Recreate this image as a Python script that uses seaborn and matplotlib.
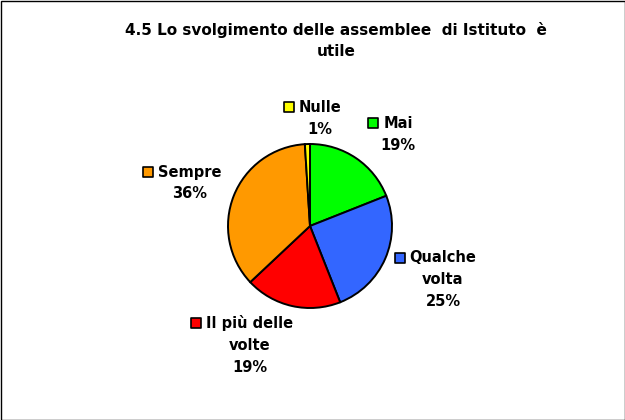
import matplotlib
matplotlib.use("Agg")
import matplotlib.pyplot as plt
import seaborn as sns
from matplotlib.patches import Rectangle

# ---- data ----
categories = ["Mai", "Qualche volta", "Il più delle volte", "Sempre", "Nulle"]
label_lines = [["Mai"], ["Qualche", "volta"], ["Il più delle", "volte"], ["Sempre"], ["Nulle"]]
values = [19, 25, 19, 36, 1]
colors = ["#00FF00", "#3366FF", "#FF0000", "#FF9900", "#FFFF00"]
title = "4.5 Lo svolgimento delle assemblee  di Istituto  è\nutile"

# ---- layout (pixel coordinates, y from top) ----
W, H = 625, 420
pie_center = (310, 226)
pie_radius = 82
# x centre of label block, y of first line
label_pos = [(398, 123), (443, 258), (250, 323), (190, 172), (320, 107)]
line_pitch = 22

sns.set_theme(style="white")
plt.rcParams["font.family"] = ["DejaVu Sans"]

fig = plt.figure(figsize=(W / 100, H / 100), dpi=100)
fig.patch.set_facecolor("white")
ax = fig.add_axes([0, 0, 1, 1])

pal = sns.color_palette(colors)
ax.pie(values, colors=pal, startangle=90, counterclock=False,
       center=(pie_center[0], H - pie_center[1]), radius=pie_radius,
       wedgeprops=dict(edgecolor="black", linewidth=1.4), frame=True)
ax.set_xlim(0, W)
ax.set_ylim(0, H)
ax.set_axis_off()

fig.text(336 / W, 1 - 41 / H, title, ha="center", va="center",
         fontsize=11, fontweight="bold", color="black", linespacing=1.5)

fig.canvas.draw()
renderer = fig.canvas.get_renderer()
for lines, val, col, (cx, cy) in zip(label_lines, values, pal, label_pos):
    all_lines = lines + [f"{val}%"]
    first = None
    for i, ln in enumerate(all_lines):
        t = ax.text(cx, H - (cy + i * line_pitch), ln, ha="center", va="center",
                    fontsize=10.5, fontweight="bold", color="black")
        if i == 0:
            first = t
    bb = first.get_window_extent(renderer=renderer)
    x0 = ax.transData.inverted().transform((bb.x0, bb.y0))[0]
    ax.scatter([x0 - 10], [H - cy], marker="s", s=50, color=col,
               edgecolor="black", linewidth=1.2, zorder=5)

ax.add_patch(Rectangle((0.5, 0.5), W - 1, H - 1, fill=False,
                       edgecolor="black", linewidth=1, zorder=10))

fig.savefig("out.png", dpi=100)
